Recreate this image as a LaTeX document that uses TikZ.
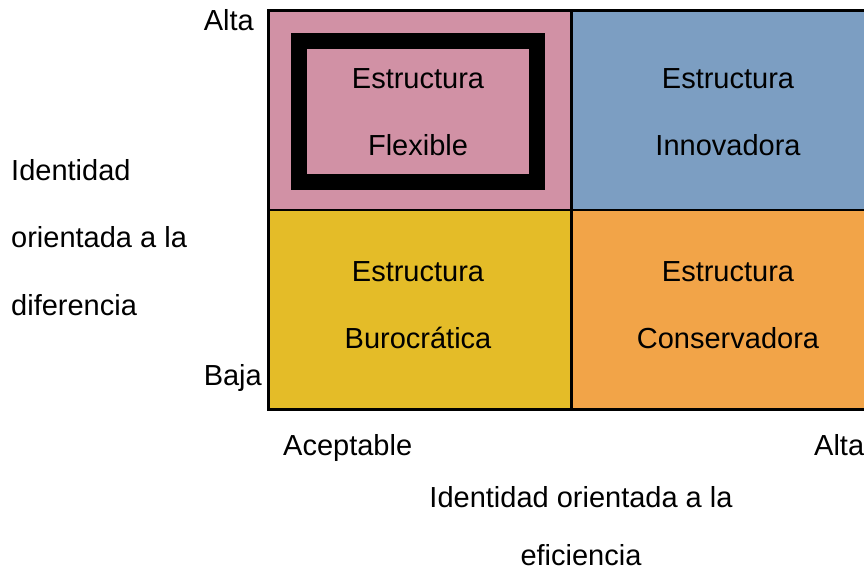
\documentclass[tikz,border=0pt]{standalone}
\usepackage{fontspec}
\setmainfont{Liberation Sans}
\definecolor{cpink}{HTML}{D191A5}
\definecolor{cblue}{HTML}{7C9EC2}
\definecolor{cyellow}{HTML}{E4BC28}
\definecolor{corange}{HTML}{F2A448}
\tikzset{
  cell/.style={draw=black, line width=2.5pt, minimum width=303pt, minimum height=199.5pt, inner sep=0pt, anchor=north west},
  txt/.style={anchor=base, inner sep=0pt, font=\fontsize{29}{35}\selectfont},
  ltxt/.style={anchor=base west, inner sep=0pt, font=\fontsize{29}{35}\selectfont},
  rtxt/.style={anchor=base east, inner sep=0pt, font=\fontsize{29}{35}\selectfont}
}
\begin{document}
\begin{tikzpicture}[x=1pt,y=-1pt]
\useasboundingbox (0,0) rectangle (864,576);
\clip (0,0) rectangle (864,576);
\node[cell, fill=cpink] (pink) at (267,9) {};
\node[cell, fill=cblue] (blue) at (570,9) {};
\node[cell, fill=cyellow] (yellow) at (267,208.5) {};
\node[cell, fill=corange] (orange) at (570,208.5) {};
\node[draw=black, line width=16pt, minimum width=238pt, minimum height=141pt, inner sep=0pt] (frame) at (418,111.5) {};
% cell texts
\node[txt] (t1a) at (418,88) {Estructura};
\node[txt] (t1b) at (418,155) {Flexible};
\node[txt] (t2a) at (728,88) {Estructura};
\node[txt] (t2b) at (728,155) {Innovadora};
\node[txt] (t3a) at (418,281) {Estructura};
\node[txt] (t3b) at (418,348) {Burocrática};
\node[txt] (t4a) at (728,281) {Estructura};
\node[txt] (t4b) at (728,348) {Conservadora};
% axis labels
\node[rtxt] (alta1) at (254,30) {Alta};
\node[rtxt] (baja) at (262,385) {Baja};
\node[ltxt] (y1) at (11,180) {Identidad};
\node[ltxt] (y2) at (11,247) {orientada a la};
\node[ltxt] (y3) at (11,315) {diferencia};
\node[ltxt] (acep) at (283,455) {Aceptable};
\node[ltxt] (alta2) at (814,455) {Alta};
\node[txt] (x1) at (581,507) {Identidad orientada a la};
\node[txt] (x2) at (581,565) {eficiencia};
\end{tikzpicture}
\end{document}
